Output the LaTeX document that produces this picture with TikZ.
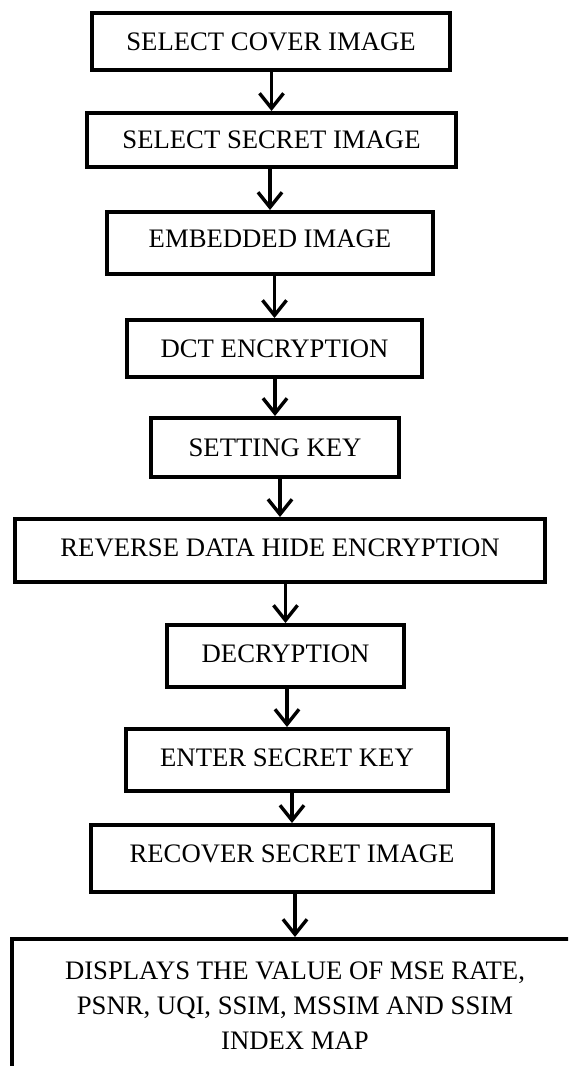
\documentclass[tikz,border=0pt]{standalone}
\usepackage{fontspec}
\setmainfont{Liberation Serif}
\usetikzlibrary{arrows.meta, positioning}
\tikzset{
  stepbox/.style={rectangle, draw=black, line width=2pt, fill=white, inner sep=0pt,
    font=\fontsize{13.35}{17.5}\selectfont, text centered, align=center},
  raised/.style={text height=9pt, text depth=#1},
  arrow/.style={-{Straight Barb[length=7.5pt,width=12pt]}, line width=1.7pt, black}
}
\begin{document}
\begin{tikzpicture}[x=0.5pt, y=-0.5pt]
  \useasboundingbox (0,0) rectangle (568,1066);
  \clip (0,0) rectangle (568,1066);
  \node[stepbox, minimum width=179pt, minimum height=28.5pt] (cover) at (271,41.5) {SELECT COVER IMAGE};
  \node[stepbox, minimum width=184.5pt, minimum height=27pt] (secret) at (271.5,140) {SELECT SECRET IMAGE};
  \node[stepbox, raised=4.8pt, minimum width=163pt, minimum height=31pt] (embed) at (270,243) {EMBEDDED IMAGE};
  \node[stepbox, minimum width=147.5pt, minimum height=28.5pt] (dct) at (274.5,348.5) {DCT ENCRYPTION};
  \node[stepbox, minimum width=124pt, minimum height=29.5pt] (key) at (275,447.5) {SETTING KEY};
  \node[stepbox, raised=2.8pt, minimum width=265pt, minimum height=31.5pt] (rdh) at (280,550.5) {REVERSE DATA HIDE ENCRYPTION};
  \node[stepbox, raised=2.8pt, minimum width=118.5pt, minimum height=31pt] (decrypt) at (285.5,656) {DECRYPTION};
  \node[stepbox, raised=2.8pt, minimum width=161pt, minimum height=31pt] (enter) at (287,760) {ENTER SECRET KEY};
  \node[stepbox, raised=4.8pt, minimum width=201pt, minimum height=33.5pt] (recover) at (292,858.5) {RECOVER SECRET IMAGE};
  \node[stepbox, anchor=north, minimum width=283pt, minimum height=67pt] (display) at (295,937)
    {DISPLAYS THE VALUE OF MSE RATE,\\PSNR, UQI, SSIM, MSSIM AND SSIM\\INDEX MAP};
  % arrows between the steps
  \draw[arrow] (secret.north |- cover.south) -- (secret.north);
  \draw[arrow] (embed.north |- secret.south) -- (embed.north);
  \draw[arrow] (dct.north |- embed.south) -- (dct.north);
  \draw[arrow] (key.north |- dct.south) -- (key.north);
  \draw[arrow] (rdh.north |- key.south) -- (rdh.north);
  \draw[arrow] (decrypt.north |- rdh.south) -- (decrypt.north);
  \draw[arrow] (enter.north |- decrypt.south) -- (enter.north);
  \draw[arrow] (recover.north |- enter.south) -- (recover.north);
  \draw[arrow] (display.north |- recover.south) -- (display.north);
\end{tikzpicture}
\end{document}
